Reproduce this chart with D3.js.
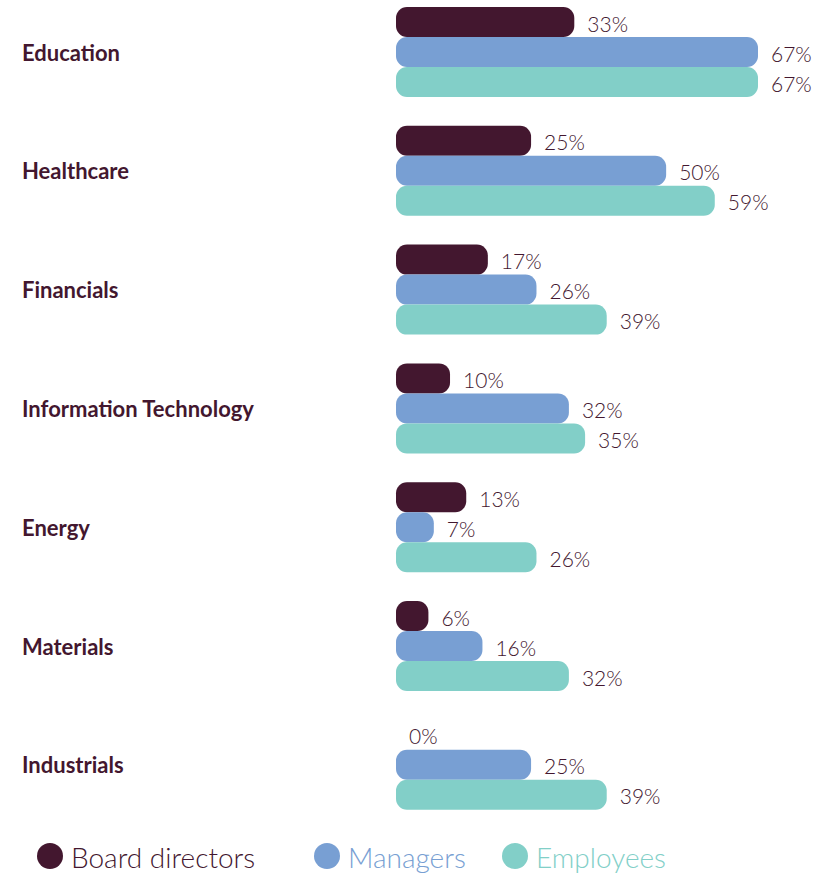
<!DOCTYPE html>
<html>
<head>
<meta charset="utf-8">
<script src="https://cdn.jsdelivr.net/npm/d3@7"></script>
<style>
  html, body { margin: 0; padding: 0; background: #fff; }
  svg { display: block; }
</style>
</head>
<body>
<svg id="chart" width="836" height="873"></svg>
<script>
// Share of women by sector and role
const categories = ["Education", "Healthcare", "Financials", "Information Technology", "Energy", "Materials", "Industrials"];
const seriesNames = ["Board directors", "Managers", "Employees"];
const boardDirectors = [33, 25, 17, 10, 13, 6, 0];
const managers = [67, 50, 26, 32, 7, 16, 25];
const employees = [67, 59, 39, 35, 26, 32, 39];
const seriesColors = ["#43172f", "#789fd3", "#82cfc8"];

const seriesValues = [boardDirectors, managers, employees];
const rows = categories.map((c, i) => ({
  category: c,
  values: seriesNames.map((s, j) => ({ series: s, value: seriesValues[j][i], color: seriesColors[j] }))
}));

const svg = d3.select("#chart");
const textColor = "#43172f";

const x = d3.scaleLinear().domain([0, 67]).range([396, 758]);

const groupStep = 118.8;
const y = d3.scaleBand()
  .domain(categories)
  .range([52 - 45 - (groupStep - 90) / 2, 52 - 45 - (groupStep - 90) / 2 + groupStep * categories.length])
  .paddingInner((groupStep - 90) / groupStep)
  .paddingOuter((groupStep - 90) / groupStep / 2);

const ySub = d3.scaleBand().domain(seriesNames).range([0, y.bandwidth()]).padding(0);

const groups = svg.selectAll("g.group")
  .data(rows)
  .join("g")
  .attr("class", "group")
  .attr("transform", d => `translate(0,${y(d.category)})`);

groups.append("text")
  .attr("x", 22)
  .attr("y", y.bandwidth() / 2)
  .attr("dominant-baseline", "central")
  .attr("font-family", "Lato, 'Open Sans', sans-serif")
  .attr("font-weight", 700)
  .attr("font-size", 22)
  .attr("fill", textColor)
  .text(d => d.category);

groups.selectAll("rect")
  .data(d => d.values.filter(v => v.value > 0))
  .join("rect")
  .attr("x", x(0))
  .attr("y", v => ySub(v.series))
  .attr("width", v => x(v.value) - x(0))
  .attr("height", ySub.bandwidth())
  .attr("rx", 11)
  .attr("ry", 11)
  .attr("fill", v => v.color);

groups.selectAll("text.value")
  .data(d => d.values)
  .join("text")
  .attr("class", "value")
  .attr("x", v => x(v.value) + 13)
  .attr("y", v => ySub(v.series) + ySub.bandwidth() / 2 + 1)
  .attr("dominant-baseline", "central")
  .attr("font-family", "Lato, 'Open Sans', sans-serif")
  .attr("font-weight", 300)
  .attr("font-size", 21)
  .attr("fill", textColor)
  .text(v => v.value + "%");

// Legend
const legendX = [50, 327, 515];
const legend = svg.selectAll("g.legend")
  .data(seriesNames)
  .join("g")
  .attr("class", "legend")
  .attr("transform", (d, i) => `translate(${legendX[i]},856)`);

legend.append("circle")
  .attr("r", 13)
  .attr("fill", (d, i) => seriesColors[i]);

legend.append("text")
  .attr("x", 21)
  .attr("y", 1)
  .attr("dominant-baseline", "central")
  .attr("font-family", "Lato, 'Open Sans', sans-serif")
  .attr("font-weight", 300)
  .attr("font-size", 28)
  .attr("fill", (d, i) => seriesColors[i])
  .text(d => d);
</script>
</body>
</html>
